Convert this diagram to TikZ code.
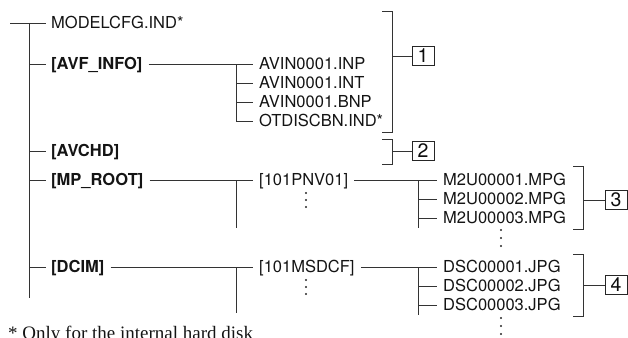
\documentclass[tikz,border=0pt]{standalone}
\usepackage{fontspec}
\setmainfont{TeX Gyre Heros}
\newfontfamily\notefont{Liberation Serif}
\begin{document}
\begin{tikzpicture}[x=1pt,y=-1pt,
  lbl/.style={anchor=west, inner sep=0pt, text height=11.8pt, text depth=0pt,
    font=\fontsize{16.5}{19}\selectfont, text=black!92},
  blbl/.style={lbl, font=\fontsize{16.5}{19}\selectfont\bfseries},
  tree/.style={draw=black!80, line width=0.95pt},
  numbox/.style={draw=black!85, line width=0.85pt, minimum width=22pt, minimum height=19pt,
    inner sep=0pt, font=\fontsize{19.5}{19.5}\selectfont, text=black!95},
  vdot/.style={fill=black!85}]
\useasboundingbox (0,0) rectangle (628,337);

% --- root column ---
\node[lbl]  (modelcfg) at (51,23)  {MODELCFG.IND*};
\node[blbl] (avf)      at (51,64)  {[AVF\_INFO]};
\node[blbl] (avchd)    at (51,151) {[AVCHD]};
\node[blbl] (mproot)   at (51,180) {[MP\_ROOT]};
\node[blbl] (dcim)     at (51,267) {[DCIM]};
\coordinate (rootL) at (10,23);
\coordinate (trunkT) at (29,23);
\coordinate (trunkB) at (29,298);
\draw[tree] (trunkT) -- (trunkB);
\draw[tree] (rootL) -- ([xshift=-5pt]modelcfg.west);
\foreach \n in {avf,avchd,mproot,dcim}
  \draw[tree] (trunkT |- \n.west) -- ([xshift=-5pt]\n.west);

% --- AVF_INFO files ---
\node[lbl] (inp) at (259,64)  {AVIN0001.INP};
\node[lbl] (int) at (259,83)  {AVIN0001.INT};
\node[lbl] (bnp) at (259,102) {AVIN0001.BNP};
\node[lbl] (otd) at (259,121) {OTDISCBN.IND*};
\coordinate (avfS) at (236,64);
\draw[tree] ([xshift=6pt]avf.east) -- ([xshift=-6pt]inp.west);
\draw[tree] (avfS) |- ([xshift=-6pt]otd.west);
\draw[tree] (avfS |- int.west) -- ([xshift=-6pt]int.west);
\draw[tree] (avfS |- bnp.west) -- ([xshift=-6pt]bnp.west);

% --- MP_ROOT ---
\node[lbl] (pnv) at (259,180) {[101PNV01]};
\coordinate (mpS) at (236,180);
\coordinate (mpSb) at (236,228);
\draw[tree] ([xshift=6pt]mproot.east) -- ([xshift=-6pt]pnv.west);
\draw[tree] (mpS) -- (mpSb);
\foreach \yy in {193,200,207} \fill[vdot] (306,\yy) circle (1.1pt);
\node[lbl] (m1) at (443,180) {M2U00001.MPG};
\node[lbl] (m2) at (443,199) {M2U00002.MPG};
\node[lbl] (m3) at (443,218) {M2U00003.MPG};
\coordinate (mfS) at (418,180);
\coordinate (mfSb) at (418,228);
\draw[tree] ([xshift=6pt]pnv.east) -- ([xshift=-6pt]m1.west);
\draw[tree] (mfS) -- (mfSb);
\draw[tree] (mfS |- m2.west) -- ([xshift=-6pt]m2.west);
\draw[tree] (mfS |- m3.west) -- ([xshift=-6pt]m3.west);
\foreach \yy in {230,238,246} \fill[vdot] (501,\yy) circle (1.1pt);

% --- DCIM ---
\node[lbl] (msd) at (259,267) {[101MSDCF]};
\coordinate (dcS) at (236,267);
\coordinate (dcSb) at (236,313);
\draw[tree] ([xshift=6pt]dcim.east) -- ([xshift=-6pt]msd.west);
\draw[tree] (dcS) -- (dcSb);
\foreach \yy in {280,287,294} \fill[vdot] (306,\yy) circle (1.1pt);
\node[lbl] (d1) at (443,267) {DSC00001.JPG};
\node[lbl] (d2) at (443,286) {DSC00002.JPG};
\node[lbl] (d3) at (443,305) {DSC00003.JPG};
\coordinate (dfS) at (418,267);
\coordinate (dfSb) at (418,315);
\draw[tree] ([xshift=6pt]msd.east) -- ([xshift=-6pt]d1.west);
\draw[tree] (dfS) -- (dfSb);
\draw[tree] (dfS |- d2.west) -- ([xshift=-6pt]d2.west);
\draw[tree] (dfS |- d3.west) -- ([xshift=-6pt]d3.west);
\foreach \yy in {318,326,334} \fill[vdot] (501,\yy) circle (1.1pt);

% --- brackets and numbered boxes ---
\node[numbox] (b1) at (423,56)  {1};
\node[numbox] (b2) at (423,151) {2};
\node[numbox] (b3) at (616,200) {3};
\node[numbox] (b4) at (616,285) {4};
\coordinate (k1t) at (392,11);  \coordinate (k1b) at (392,132);
\coordinate (k2t) at (392,139); \coordinate (k2b) at (392,164);
\coordinate (k3t) at (583,166); \coordinate (k3b) at (583,229);
\coordinate (k4t) at (583,254); \coordinate (k4b) at (583,316);
\foreach \k in {k1,k2,k3,k4}
  \draw[tree] ([xshift=-10pt]\k t) -- (\k t) -- (\k b) -- ([xshift=-10pt]\k b);
\draw[tree] (k1t |- b1.west) -- (b1.west);
\draw[tree] (k2t |- b2.west) -- (b2.west);
\draw[tree] (k3t |- b3.west) -- (b3.west);
\draw[tree] (k4t |- b4.west) -- (b4.west);

% --- footnote ---
\node[anchor=base west, inner sep=0pt, font=\notefont\fontsize{19}{22}\selectfont, text=black!92]
  (note) at (8,339) {* Only for the internal hard disk};
\end{tikzpicture}
\end{document}
